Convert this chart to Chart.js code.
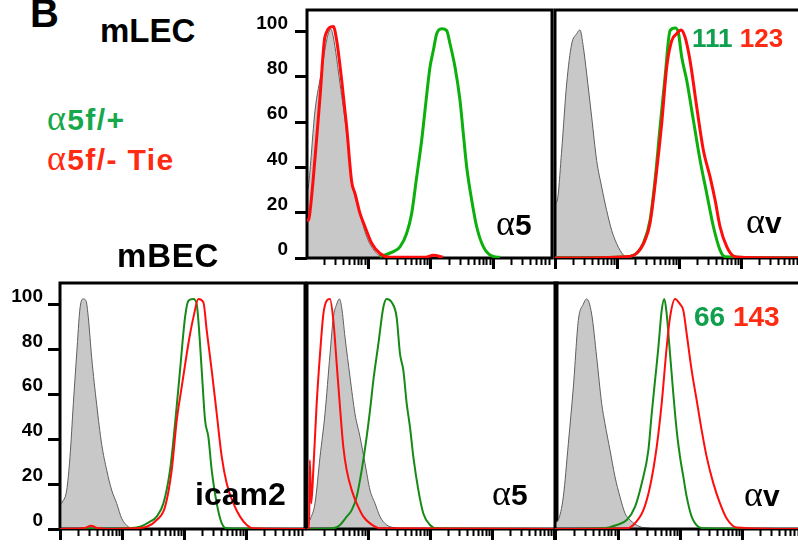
<!DOCTYPE html>
<html>
<head>
<meta charset="utf-8">
<script src="https://cdn.jsdelivr.net/npm/chart.js@4.4.0/dist/chart.umd.min.js"></script>
<style>
  html, body { margin: 0; padding: 0; background: #fff; width: 798px; height: 544px; overflow: hidden; }
  body { position: relative; font-family: 'Liberation Sans', Arial, sans-serif; }
  canvas { position: absolute; }
  .t { position: absolute; font-weight: bold; line-height: 1; white-space: nowrap; color: #000; }
  .a { font-family: 'Liberation Serif', 'DejaVu Serif', serif; font-weight: normal; font-size: 1.2em; line-height: 0; }
  .leg { letter-spacing: 1.4px; }
</style>
</head>
<body>
<div id="panels"></div>

<div class="t" style="left:30px;top:-7px;font-size:40px">B</div>
<div class="t" style="left:100px;top:14px;font-size:33px">mLEC</div>
<div class="t" style="left:117px;top:239px;font-size:33px;letter-spacing:0.8px">mBEC</div>
<div class="t leg" style="left:47px;top:105px;font-size:30px;color:#16a84a"><span class="a">α</span>5f/+</div>
<div class="t leg" style="left:47px;top:145px;font-size:30px;color:#ff2a12"><span class="a">α</span>5f/- Tie</div>

<div class="t" style="left:496px;top:210px;font-size:30px"><span class="a">α</span>5</div>
<div class="t" style="left:746px;top:208px;font-size:30px"><span class="a">α</span>v</div>
<div class="t" style="left:692px;top:25px;font-size:26px"><span style="color:#0ea04c">111</span> <span style="color:#ff2a12">123</span></div>

<div class="t" style="left:195px;top:478px;font-size:32px">icam2</div>
<div class="t" style="left:492px;top:480px;font-size:30px"><span class="a">α</span>5</div>
<div class="t" style="left:744px;top:481px;font-size:30px"><span class="a">α</span>v</div>
<div class="t" style="left:694px;top:303px;font-size:28px"><span style="color:#0ea04c">66</span> <span style="color:#ff2a12">143</span></div>

<script>
// 軸の目盛り
const countTicks = [0, 20, 40, 60, 80, 100];
const decadeTicks = [0, 1, 2, 3, 4];
const minorSteps = [2, 3, 4, 5, 6, 7, 8, 9];

// mLEC α5 : [log10 蛍光強度, 細胞数 %]
const lecA5Iso = [[0.03,30],[0.045,31.4],[0.152,65],[0.259,82.8],[0.339,96.3],[0.403,101.1],[0.445,97.6],[0.552,77],[0.659,54.9],[0.739,34.1],[0.872,19.7],[0.979,9.4],[1.139,2.0],[1.245,0.3]];
const lecA5Ctrl = [[1.19,0.6],[1.405,2.8],[1.512,4.9],[1.619,10.9],[1.699,19.7],[1.779,35.8],[1.859,52.0],[1.912,65.2],[1.992,84.3],[2.045,91.6],[2.099,99.0],[2.179,101.2],[2.259,100.4],[2.312,94.6],[2.392,84.3],[2.472,69.6],[2.525,54.9],[2.579,40.2],[2.659,25.6],[2.739,13.8],[2.845,5.0],[2.979,0.9],[3.112,0.3]];
const lecA5Ko = [[0.03,16],[0.061,18.2],[0.152,44],[0.232,71],[0.312,97.7],[0.445,102.2],[0.499,96.0],[0.579,78.4],[0.659,57.8],[0.739,33.6],[0.792,28.5],[0.872,19.7],[0.952,13.8],[1.059,6.5],[1.192,2.0],[1.352,0.3],[1.9,0.3],[2.05,1.2],[2.2,0.3]];

// mLEC αv
const lecAvIso = [[0,24],[0.038,25.6],[0.108,47.6],[0.188,76.9],[0.269,94.5],[0.349,99],[0.403,100.7],[0.457,93.1],[0.511,81.3],[0.591,62.3],[0.672,43.0],[0.753,31.3],[0.833,21.0],[0.914,12.2],[0.995,6.3],[1.102,1.3],[1.2,0]];
const lecAvCtrl = [[0,0],[1.156,0.6],[1.317,2.1],[1.425,6.5],[1.532,16.7],[1.613,34.4],[1.694,57.9],[1.774,79.9],[1.855,100.4],[1.935,101.6],[1.989,99.5],[2.043,88.7],[2.124,78.4],[2.231,60.8],[2.339,43.2],[2.446,28.5],[2.554,13.8],[2.661,3.5],[2.742,0.6],[3.95,0]];
const lecAvKo = [[0,0],[1.156,0.6],[1.317,2.1],[1.452,7.9],[1.532,15.3],[1.640,38.8],[1.720,59.3],[1.801,84.3],[1.882,96.0],[1.962,99.0],[2.032,100.7],[2.097,97.5],[2.177,87.2],[2.285,66.7],[2.392,47.6],[2.500,35.8],[2.581,25.6],[2.661,13.8],[2.769,5.0],[2.876,0.9],[2.984,0.3],[3.95,0]];

// mBEC icam2
const becIcamIso = [[0.027,11.4],[0.108,17.3],[0.161,32.1],[0.215,55.8],[0.269,77.9],[0.323,98.4],[0.376,102.4],[0.419,101.6],[0.457,94.0],[0.511,76.2],[0.591,55.5],[0.672,37.7],[0.753,26.2],[0.833,17.3],[0.914,11.4],[0.995,4.7],[1.102,1.0],[1.183,0.3],[1.3,0]];
const becIcamCtrl = [[0,0],[1.075,0.3],[1.290,1.0],[1.452,3.3],[1.559,5.5],[1.667,11.4],[1.774,26.2],[1.855,46.9],[1.935,70.6],[2.016,94.2],[2.070,101.6],[2.151,102.4],[2.204,100.1],[2.231,92.8],[2.285,70.6],[2.339,48.4],[2.392,41.0],[2.446,26.2],[2.527,11.4],[2.608,2.5],[2.688,0.3],[3.95,0]];
const becIcamKo = [[0,0],[0.4,0.5],[0.5,1.5],[0.6,0.5],[0.8,0],[1.183,0.3],[1.398,1.0],[1.559,4.0],[1.694,9.9],[1.801,26.2],[1.882,48.4],[1.962,63.2],[2.043,77.9],[2.097,86.8],[2.151,94.2],[2.231,102.4],[2.312,100.9],[2.366,88.3],[2.446,70.6],[2.527,51.3],[2.608,32.1],[2.688,20.3],[2.796,11.4],[2.903,5.5],[3.011,1.8],[3.118,0.3],[3.95,0]];

// mBEC α5
const becA5Iso = [[0.065,4.0],[0.145,11.4],[0.226,32.1],[0.306,51.3],[0.387,77.9],[0.441,94.2],[0.495,100.1],[0.538,102.4],[0.575,98.7],[0.629,85.4],[0.710,67.6],[0.790,51.3],[0.871,41.0],[0.952,29.1],[1.032,17.3],[1.113,11.4],[1.194,5.5],[1.301,1.8],[1.462,0.3]];
const becA5Ctrl = [[0.016,0],[0.441,0.3],[0.548,1.8],[0.656,5.5],[0.737,8.4],[0.817,14.3],[0.898,26.2],[0.978,41.0],[1.032,52.8],[1.086,66.1],[1.167,82.4],[1.247,98.7],[1.301,102.4],[1.382,100.9],[1.462,94.2],[1.516,77.9],[1.570,70.6],[1.624,55.8],[1.677,45.4],[1.731,32.1],[1.812,17.3],[1.892,6.9],[2.000,1.8],[2.108,0.3],[4.05,0]];
const becA5Ko = [[0.016,0],[0.05,0],[0.062,30.6],[0.085,11.4],[0.118,26.2],[0.172,55.8],[0.226,77.9],[0.280,95.7],[0.333,101.6],[0.387,102.4],[0.441,92.8],[0.495,73.5],[0.548,54.3],[0.602,36.5],[0.656,26.2],[0.737,17.3],[0.817,11.4],[0.925,5.5],[1.032,2.5],[1.194,0.3],[4.05,0]];

// mBEC αv
const becAvIso = [[0.0,3],[0.038,4.0],[0.118,14.3],[0.199,38.0],[0.280,63.2],[0.360,92.8],[0.441,100.1],[0.495,102.4],[0.575,95.7],[0.656,76.5],[0.737,55.8],[0.790,46.9],[0.871,35.1],[0.952,23.2],[1.032,14.3],[1.113,7.0],[1.194,4.0],[1.355,1.0],[1.516,0.3]];
const becAvCtrl = [[-0.016,0],[0.763,0.3],[0.978,1.8],[1.140,4.0],[1.274,9.9],[1.382,20.3],[1.489,34.9],[1.543,51.2],[1.597,66.0],[1.651,80.8],[1.704,97.2],[1.747,102.4],[1.785,95.7],[1.839,78.0],[1.892,60.2],[1.946,43.9],[2.000,32.1],[2.054,23.2],[2.108,14.3],[2.188,5.5],[2.296,1.0],[2.403,0.3],[3.94,0]];
const becAvKo = [[-0.016,0],[1.140,0.3],[1.247,1.8],[1.409,8.4],[1.516,18.8],[1.624,36.5],[1.704,55.8],[1.785,80.9],[1.839,94.2],[1.919,102.4],[2.000,100.1],[2.054,97.2],[2.108,86.8],[2.188,70.6],[2.269,57.3],[2.349,44.0],[2.430,32.1],[2.538,20.3],[2.645,11.4],[2.753,4.7],[2.914,0.7],[3.94,0]];

// 黒い枠（灰色の山の後、緑・赤の線の前に描く）
const framePlugin = {
  id: 'frame',
  afterDatasetDraw(chart, args) {
    if (args.index !== 0) return;
    const a = chart.chartArea;
    const ctx = chart.ctx;
    ctx.save();
    ctx.strokeStyle = '#000';
    ctx.lineWidth = 3;
    ctx.strokeRect(a.left, a.top, a.right - a.left, a.bottom - a.top);
    ctx.restore();
  }
};

// 対数目盛り（10の累乗は太く長く）
function logTicks(min, max) {
  const out = [];
  decadeTicks.forEach((d) => {
    if (d >= min && d <= max) out.push({ value: d, major: true });
    minorSteps.forEach((m) => {
      const v = d + Math.log10(m);
      if (v >= min && v <= max) out.push({ value: v, major: false });
    });
  });
  return out.sort((p, q) => p.value - q.value);
}

function makePanel(p) {
  const cv = document.createElement('canvas');
  cv.width = p.w;
  cv.height = p.h;
  cv.style.left = p.left + 'px';
  cv.style.top = p.top + 'px';
  document.getElementById('panels').appendChild(cv);

  new Chart(cv.getContext('2d'), {
    type: 'line',
    data: {
      datasets: [
        { data: p.iso, order: 3, fill: 'origin', backgroundColor: '#c8c8c8', borderColor: '#5e5e5e', borderWidth: 1 },
        { data: p.ctrl, order: 2, fill: false, borderColor: p.green, borderWidth: p.lw },
        { data: p.ko, order: 1, fill: false, borderColor: '#ff0d0d', borderWidth: p.lw }
      ]
    },
    options: {
      responsive: false,
      animation: false,
      devicePixelRatio: 1,
      layout: { padding: p.pad },
      elements: {
        point: { radius: 0 },
        line: { cubicInterpolationMode: 'monotone' }
      },
      plugins: { legend: { display: false }, tooltip: { enabled: false } },
      scales: {
        x: {
          type: 'linear',
          min: p.xMin,
          max: p.xMax,
          afterBuildTicks: (s) => { s.ticks = logTicks(p.xMin, p.xMax); },
          afterFit: (s) => { s.height = p.axisH; s.paddingLeft = 0; s.paddingRight = 0; },
          border: { display: false },
          grid: {
            drawOnChartArea: false,
            tickLength: 11,
            tickColor: '#000',
            tickWidth: (c) => (c.tick && c.tick.major ? 3 : 2),
            tickBorderDash: (c) => (c.tick && c.tick.major ? [] : [7, 40])
          },
          ticks: { display: false, autoSkip: false }
        },
        y: {
          display: p.axisW > 0,
          min: 0,
          max: 109.5,
          afterBuildTicks: (s) => { s.ticks = countTicks.map((v) => ({ value: v })); },
          afterFit: (s) => { s.width = p.axisW; s.paddingTop = 0; s.paddingBottom = 0; },
          border: { display: false },
          grid: { drawOnChartArea: false, tickLength: 12, tickWidth: 3, tickColor: '#000' },
          ticks: {
            color: '#000',
            font: { size: 19, weight: 'bold' },
            padding: p.labelPad,
            labelOffset: -8,
            autoSkip: false
          }
        }
      }
    },
    plugins: [framePlugin]
  });
}

Chart.defaults.font.family = "'Liberation Sans', Arial, sans-serif";

const topGreen = '#0cb00c';
const lowGreen = '#168a16';

// mLEC α5（y軸つき）
makePanel({ left: 230, top: 0, w: 330, h: 280, pad: { left: 0, top: 10, right: 8, bottom: 0 },
  axisW: 77, axisH: 22, labelPad: 7, xMin: 0.024, xMax: 3.944,
  iso: lecA5Iso, ctrl: lecA5Ctrl, ko: lecA5Ko, green: topGreen, lw: 3 });
// mLEC αv
makePanel({ left: 548, top: 0, w: 252, h: 280, pad: { left: 7, top: 10, right: 0, bottom: 0 },
  axisW: 0, axisH: 22, labelPad: 0, xMin: 0, xMax: 3.95,
  iso: lecAvIso, ctrl: lecAvCtrl, ko: lecAvKo, green: topGreen, lw: 3 });
// mBEC icam2（y軸つき）
makePanel({ left: 0, top: 270, w: 310, h: 274, pad: { left: 0, top: 13, right: 5, bottom: 0 },
  axisW: 60, axisH: 15, labelPad: 5, xMin: 0, xMax: 3.95,
  iso: becIcamIso, ctrl: becIcamCtrl, ko: becIcamKo, green: lowGreen, lw: 2 });
// mBEC α5
makePanel({ left: 300, top: 270, w: 262, h: 274, pad: { left: 7, top: 13, right: 5, bottom: 0 },
  axisW: 0, axisH: 15, labelPad: 0, xMin: 0.016, xMax: 4.048,
  iso: becA5Iso, ctrl: becA5Ctrl, ko: becA5Ko, green: lowGreen, lw: 2 });
// mBEC αv
makePanel({ left: 548, top: 270, w: 252, h: 274, pad: { left: 7, top: 13, right: 0, bottom: 0 },
  axisW: 0, axisH: 15, labelPad: 0, xMin: -0.016, xMax: 3.935,
  iso: becAvIso, ctrl: becAvCtrl, ko: becAvKo, green: lowGreen, lw: 2 });
</script>
</body>
</html>
